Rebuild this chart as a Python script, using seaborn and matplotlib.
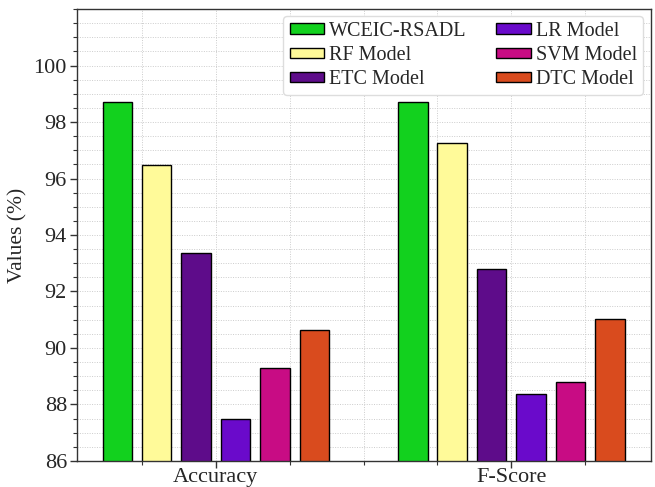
import numpy as np
import pandas as pd
import matplotlib
matplotlib.use("Agg")
import matplotlib.pyplot as plt
from matplotlib.ticker import MultipleLocator, FixedLocator
import seaborn as sns

metrics = ["Accuracy", "F-Score"]
models = ["WCEIC-RSADL", "RF Model", "ETC Model", "LR Model", "SVM Model", "DTC Model"]
accuracy = [98.72, 96.49, 93.36, 87.48, 89.30, 90.62]
fscore = [98.72, 97.26, 92.80, 88.37, 88.78, 91.04]
colors = ["#12D11E", "#FFFA99", "#5E0C8A", "#6A0ACB", "#C80C84", "#D94B1E"]

rows = []
for m, v in zip(models, accuracy):
    rows.append({"Metric": "Accuracy", "Model": m, "Value": v})
for m, v in zip(models, fscore):
    rows.append({"Metric": "F-Score", "Model": m, "Value": v})
df = pd.DataFrame(rows)

sns.set_style("white")
plt.rcParams["font.family"] = ["Liberation Serif", "DejaVu Serif"]

fig = plt.figure(figsize=(6.55, 4.87), dpi=100)
ax = fig.add_axes([0.117, 0.0534, 0.8765, 0.9281])

sns.barplot(data=df, x="Metric", y="Value", hue="Model", order=metrics,
            hue_order=models, palette=colors, saturation=1, width=0.8, gap=0.25,
            edgecolor="black", linewidth=1.0, ax=ax)

ax.set_ylim(86, 102)
ax.set_xlim(-0.471, 1.472)
ax.yaxis.set_major_locator(FixedLocator([86, 88, 90, 92, 94, 96, 98, 100]))
ax.yaxis.set_minor_locator(MultipleLocator(0.5))
ax.xaxis.set_minor_locator(FixedLocator([-0.25, 0.25, 0.5, 0.75, 1.25]))
ax.tick_params(axis="both", which="major", direction="out", length=5, width=1,
               labelsize=16, color="#333333", left=True, bottom=True)
ax.tick_params(axis="y", which="major", pad=2)
ax.tick_params(axis="x", which="major", pad=0)
ax.tick_params(axis="both", which="minor", direction="out", length=3, width=0.8,
               color="#333333", left=True, bottom=True)
ax.grid(True, which="both", linestyle=(0, (1, 1.5)), color="#cccccc", linewidth=0.7)
ax.set_axisbelow(True)
ax.set_xlabel("")
ax.set_ylabel("Values (%)", fontsize=15.5, labelpad=4)
for s in ax.spines.values():
    s.set_color("#333333")
    s.set_linewidth(1.0)

ax.legend(loc="upper right", ncol=2, fontsize=14.5, frameon=True,
          handlelength=1.7, handleheight=0.45, handletextpad=0.25,
          columnspacing=1.5, labelspacing=0.25, borderpad=0.3,
          borderaxespad=0, bbox_to_anchor=(0.9866, 0.9845),
          framealpha=1, edgecolor="#dddddd")

fig.savefig("out.png", dpi=100)
